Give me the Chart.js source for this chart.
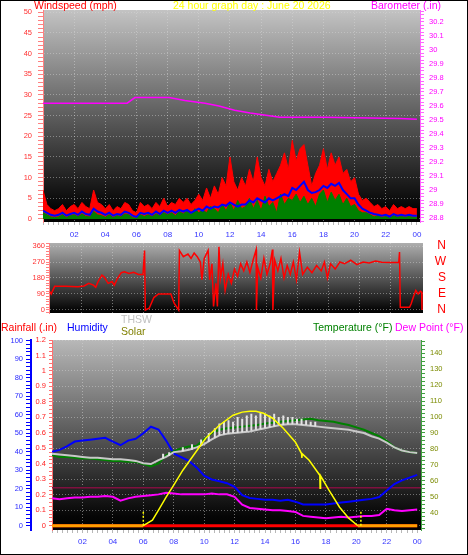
<!DOCTYPE html>
<html>
<head>
<meta charset="utf-8">
<title>24 hour graph</title>
<script src="https://cdn.jsdelivr.net/npm/chart.js"></script>
<style>
  body { margin: 0; background: #fff; }
  #wrap { position: relative; width: 468px; height: 555px; overflow: hidden; font-family: 'Liberation Sans', Arial, sans-serif; }
  #wrap canvas { position: absolute; left: 0; }
  #frame { position: absolute; left: 0; top: 0; width: 468px; height: 555px; border: 1px solid #000; box-sizing: border-box; z-index: 3; }
  .lbl { position: absolute; font-size: 10.5px; line-height: 1; white-space: nowrap; z-index: 2; }
</style>
</head>
<body>
<div id="wrap">
  <canvas id="wind" width="468" height="240" style="top:0px"></canvas>
  <canvas id="dir" width="468" height="80" style="top:240px"></canvas>
  <canvas id="env" width="468" height="235" style="top:320px"></canvas>

  <span class="lbl" style="left:34px;top:0px;color:#ff0000">Windspeed (mph)</span>
  <span class="lbl" style="left:173px;top:0px;color:#ffff00">24 hour graph day : June 20 2026</span>
  <span class="lbl" style="left:371px;top:0px;color:#ff00ff">Barometer (.in)</span>

  <span class="lbl" style="left:1px;top:322px;color:#ff0000">Rainfall (.in)</span>
  <span class="lbl" style="left:67px;top:322px;color:#0000ff">Humidity</span>
  <span class="lbl" style="left:121px;top:314px;color:#c0c0c0">THSW</span>
  <span class="lbl" style="left:121px;top:326px;color:#808000">Solar</span>
  <span class="lbl" style="left:313px;top:322px;color:#008000">Temperature (°F)</span>
  <span class="lbl" style="left:395px;top:322px;color:#ff00ff">Dew Point (°F)</span>
  <div id="frame"></div>
</div>
<script>
    // ---- top chart: wind (15 min steps, 00:00 .. 24:00) ----
    var windGust = [
        7, 3.5, 2.5, 2,   2.5, 3.5, 2, 3,   3.5, 2.5, 4, 3,   2.5, 7, 4, 3.5,
        2.5, 3.5, 2, 3,   2.5, 4, 3.5, 2,   1.5, 4, 3, 3.5,   2.5, 4, 3, 5,
        3, 4, 3.5, 5,     4, 5, 3.5, 4.5,   6, 4.5, 7.5, 5,   8, 6, 10, 8,
        15, 9, 7, 10,     8, 12, 9, 15,     10, 8, 12, 9,     11, 13, 16, 12,
        19, 14, 17, 18,   13, 8, 11, 13,    17, 12, 16, 13,   15, 11, 12, 9,
        10, 6, 4.5, 5,    4, 3, 3.5, 2.5,   3, 2, 3.5, 2.5,   3, 2.5, 3, 2.5,
        2.5
    ];
    var windAvg = [
        2, 1.5, 1, 0.8,   1, 1.5, 0.8, 1.2,  1.5, 1, 1.8, 1.2,  1, 2.5, 1.8, 1.5,
        1, 1.5, 0.8, 1.2,  1, 1.8, 1.5, 0.8,  0.5, 1.5, 1.2, 1.5,  1, 1.8, 1.2, 2,
        1.5, 2, 1.5, 2.2,  1.8, 2.2, 1.5, 2,  2.5, 2, 3, 2.5,    3, 2.8, 3.5, 3.2,
        4, 3.5, 3, 3.5,    3.5, 4.5, 4, 5,   4.5, 4, 5, 4.5,    5, 5.5, 6, 5.5,
        7.5, 7, 8, 9,      7, 6.3, 6.5, 7,   8, 7.5, 8.5, 8,    8.7, 7, 6, 5,
        5, 3.5, 2.5, 2,    1.5, 1.2, 1, 0.8, 1, 0.6, 1.2, 0.8,  1, 0.8, 1, 0.8,
        0.8
    ];
    var windSpeed = [
        1.5, 1, 0.5, 0.3,  0.5, 1, 0.3, 0.8,  1, 0.5, 1.2, 0.6,  0.5, 1.8, 1, 0.8,
        0.4, 1, 0.3, 0.8,  0.5, 1.2, 1, 0.3,  0.2, 1, 0.6, 1,    0.5, 1.2, 0.8, 1.5,
        1, 1.5, 0.8, 1.8,  1.2, 2, 1, 2.5,    1.5, 2.2, 1.5, 3,  2.5, 1.5, 3.5, 2,
        4, 2, 4.5, 2.5,    3, 5, 2.5, 4.5,    2, 5.5, 3, 4,      1.5, 6, 3.5, 5,
        4.5, 6, 4, 5.5,    3.5, 5, 3, 6,      7, 4, 6.5, 4.5,    6, 3.5, 5, 3,
        3.5, 2, 1.5, 1.5,  1, 0.5, 0.8, 0.3,  0.6, 0.2, 0.8, 0.4, 0.6, 0.4, 0.6, 0.4,
        0.4
    ];
    var baroHours = [0, 5.4, 5.9, 8.1, 9.1, 10.4, 11.3, 12.3, 13.3, 14.2, 15.2, 18, 21, 22.9, 24];
    var barometer = [29.62, 29.62, 29.66, 29.66, 29.64, 29.62, 29.6, 29.57, 29.55, 29.535, 29.52, 29.52, 29.515, 29.51, 29.505];

    // ---- middle chart: wind direction ----
    var dirHours = [0, 0.08, 0.15, 0.3, 1, 1.8, 2.2, 2.5, 2.8, 2.95, 3.1, 3.35, 3.5, 3.75, 4, 4.15, 4.35, 4.6, 4.8, 5.1, 5.4, 5.7, 6,
        6.1, 6.15, 6.4, 6.7, 7, 7.8, 8, 8.3, 8.35, 8.6, 8.9, 9.1, 9.3, 9.5, 9.7, 9.8, 9.95, 10.2, 10.3, 10.45, 10.55, 10.7, 10.8, 10.9,
        11, 11.15, 11.3, 11.5, 11.7, 11.9, 12.1, 12.3, 12.5, 12.7, 12.9, 13.1, 13.3, 13.32, 13.4, 13.6, 13.8, 14, 14.2, 14.35, 14.38,
        14.5, 14.7, 14.9, 15.1, 15.3, 15.5, 15.7, 15.9, 16.1, 16.3, 16.6, 16.9, 17.2, 17.5, 17.7, 17.9, 18.1, 18.4, 18.7, 19, 19.4,
        19.8, 20.2, 20.6, 21, 21.4, 22, 22.5, 22.55, 22.6, 23.2, 23.3, 23.45, 23.6, 23.75, 23.9, 23.98, 24];
    var dirDegrees = [103, 90, 105, 133, 133, 131, 135, 150, 140, 128, 160, 196, 185, 150, 160, 140, 177, 210, 215, 205, 212, 200, 200,
        335, 0, 10, 70, 90, 90, 40, 0, 335, 300, 315, 290, 320, 300, 270, 170, 290, 335, 170, 260, 20, 150, 20, 355,
        180, 260, 110, 200, 150, 230, 190, 260, 220, 270, 210, 280, 340, 0, 240, 180, 290, 200, 260, 340, 0,
        280, 220, 290, 180, 250, 200, 270, 170, 325, 200, 240, 210, 250, 220, 270, 180, 260, 230, 270, 260, 280,
        255, 270, 265, 275, 268, 267, 267, 326, 15, 15, 35, 75, 110, 90, 105, 100, 0];

    // ---- bottom chart (30 min steps unless noted) ----
    var temperature = [76, 75, 75, 74.5, 74, 74, 73.5, 73, 72.5, 72.5, 72, 72, 70.5, 69, 71, 76, 78.5, 80.5, 81.5, 82, 86, 90, 92,
        93, 93.5, 94, 94.5, 95, 96, 96.5, 97, 97.5, 98, 98.5, 99, 98, 97.5, 97, 96, 95, 93.5, 92, 90, 88, 85, 81, 79, 78, 77.5];
    var humidity = [40, 41, 43, 45.5, 46, 46.5, 47, 47.5, 45.5, 43.5, 46, 47, 50, 53.5, 52, 46, 39, 37, 35, 31.5, 27, 25, 24, 23,
        21, 16.5, 15, 14.5, 14, 14, 13.5, 14, 13, 11.5, 11.5, 11.5, 11.5, 12, 12.5, 13, 13.5, 14, 14.5, 15.5, 19, 22.5, 24.5, 26, 27.5];
    var dewPoint = [49, 48.5, 49, 49.5, 49.5, 50, 50, 50.5, 50, 47.5, 49, 50, 50.5, 51, 51.5, 52.5, 52, 51.5, 51.5, 51.5, 51.5, 52,
        51.5, 51.5, 50, 45, 43, 42.5, 42, 41.5, 41.5, 41, 40.5, 38, 37.5, 37, 36.5, 37, 37.5, 37, 37.5, 38, 38, 38.5, 42.5, 41.5, 41, 41.5, 42];
    var thsw = [77, 76.5, 76, 75.5, 75, 74.5, 74.5, 74, 73.5, 73.5, 73, 72.5, 71, 70.5, 73, 75, 78, 78.5, 79.5, 81, 83, 86, 88.5,
        89.5, 90, 90.5, 91, 92, 93, 94, 95, 95.5, 95.5, 95, 94.5, 94, 93.5, 93, 92.5, 92, 91, 90, 88, 86.5, 84, 81, 79, 78, 77.5];
    // short THSW peaks (hour, low, high)
    var thswPeakHours = [7.3, 7.7, 8.6, 9.2, 9.8, 10.3, 10.7, 11, 11.3, 11.6, 11.9, 12.2, 12.5, 12.8, 13.1, 13.4, 13.7, 14, 14.3,
        14.6, 14.9, 15.2, 15.5, 15.8, 16.1, 16.4, 16.7, 17, 17.3];
    var thswPeakLow = [74, 75.5, 78.5, 79.5, 82, 84.5, 87, 88.5, 89, 89.5, 90, 90, 90.5, 91, 91.5, 92, 92.5, 93, 93.5,
        94, 95, 95, 95.5, 95.5, 95.5, 95, 95, 94.5, 94];
    var thswPeakHigh = [77, 78, 81, 83, 86, 90, 93, 96, 97, 98, 97, 100, 99, 101, 102, 101, 103, 102, 101,
        102, 100, 101, 100, 100, 99, 99, 98, 97, 97];
    var rainfall = [0, 0];
    var rainHours = [0, 24];
    var solarHours = [0, 6, 6.6, 7, 7.5, 8, 8.6, 9.3, 10.1, 11, 11.9, 12.5, 13, 13.4, 13.9, 14.5, 15.2, 16, 16.4, 16.42, 16.45,
        16.9, 17.6, 17.62, 17.65, 18.2, 18.9, 19.5, 20.1, 24];
    var solar = [0, 0, 30, 84, 154, 219, 300, 381, 473, 543, 597, 614, 619, 619, 608, 581, 527, 451, 390, 366, 388,
        354, 273, 202, 270, 192, 100, 41, 0, 0];
    var sunHours = [6, 20.3];
    var limitTemp = 55.7;

    // ---- helpers ----
    var quarterHours = windGust.map(function (v, i) { return i / 4; });
    var halfHours = temperature.map(function (v, i) { return i / 2; });
    function pts(xs, ys) { return ys.map(function (y, i) { return { x: xs[i], y: y }; }); }
    function strokes(xs, lows, highs) {
        var out = [];
        xs.forEach(function (x, i) {
            out.push({ x: x, y: lows[i] }, { x: x, y: highs[i] }, { x: x, y: null });
        });
        return out;
    }
    function near(v, m) { return Math.abs(v / m - Math.round(v / m)) < 1e-6; }
    function stepTicks(from, to, step) {
        var out = [], n = Math.round((to - from) / step);
        for (var i = 0; i <= n; i++) out.push({ value: +(from + i * step).toFixed(4) });
        return out;
    }
    function oneDec(v) { return String(Math.round(v * 10) / 10); }
    function noPad(s) { s.paddingTop = 0; s.paddingBottom = 0; s.paddingLeft = 0; s.paddingRight = 0; }

    Chart.defaults.font.family = "'Liberation Sans', Arial, sans-serif";
    Chart.defaults.animation = false;

    function plotBg(top, bottom) {
        return {
            id: 'plotBg',
            beforeDraw: function (chart) {
                var a = chart.chartArea, ctx = chart.ctx;
                var g = ctx.createLinearGradient(0, a.top, 0, a.bottom);
                g.addColorStop(0, top);
                g.addColorStop(0.93, bottom);
                g.addColorStop(1, '#000000');
                ctx.save();
                ctx.fillStyle = g;
                ctx.fillRect(a.left, a.top, a.right - a.left, a.bottom - a.top);
                ctx.restore();
            }
        };
    }

    function hourAxis(min, max, showLabels, height, pad) {
        return {
            type: 'linear', min: min, max: max,
            afterBuildTicks: function (s) { s.ticks = stepTicks(0, 24, 1 / 3); },
            afterFit: function (s) { s.height = height; noPad(s); },
            grid: {
                color: function (c) {
                    var v = c.tick.value;
                    return near(v, 2) && v > 0 && v < 24 ? 'rgba(215,215,215,0.5)' : 'rgba(0,0,0,0)';
                },
                tickColor: '#b8b8b8', tickLength: 3, drawTicks: showLabels
            },
            border: { display: false, dash: [1, 2] },
            ticks: {
                display: showLabels, autoSkip: false, maxRotation: 0, padding: pad,
                color: '#3535ff', font: { size: 8 },
                callback: function (v) { return near(v, 2) && v > 0 ? String(Math.round(v) % 24).padStart(2, '0') : ''; }
            }
        };
    }

    function valueAxis(o) {
        return {
            type: 'linear', display: true, position: o.position, min: o.min, max: o.max, weight: o.weight || 0,
            afterBuildTicks: function (s) { s.ticks = stepTicks(o.from, o.to, o.step); },
            afterFit: function (s) { s.width = o.width; noPad(s); },
            grid: {
                drawOnChartArea: !!o.gridEvery,
                color: function (c) { return o.gridEvery && near(c.tick.value, o.gridEvery) ? 'rgba(215,215,215,0.45)' : 'rgba(0,0,0,0)'; },
                tickColor: o.tickColor, tickLength: o.tickLength
            },
            border: { display: true, color: o.borderColor || o.tickColor, width: o.borderWidth || 1, dash: [1, 2] },
            ticks: {
                autoSkip: false, padding: o.padding, color: o.color, font: { size: 7.5 },
                callback: function (v) {
                    if (!near(v, o.labelEvery)) return '';
                    if (o.labelMin !== undefined && v < o.labelMin - 1e-6) return '';
                    return o.fmt(v);
                }
            }
        };
    }

    var common = {
        responsive: false,
        elements: { point: { radius: 0 }, line: { tension: 0 } },
        plugins: { legend: { display: false }, tooltip: { enabled: false } }
    };

    // ---- top: wind speed + barometer ----
    new Chart(document.getElementById('wind'), {
        type: 'line',
        data: {
            datasets: [
                { data: pts(baroHours, barometer), yAxisID: 'baro', borderColor: '#ff00ff', borderWidth: 1.5 },
                { data: pts(quarterHours, windAvg), yAxisID: 'wind', borderColor: '#0000ff', borderWidth: 2 },
                { data: pts(quarterHours, windSpeed), yAxisID: 'wind', borderColor: '#008000', backgroundColor: '#008000', borderWidth: 1, fill: 'origin' },
                { data: pts(quarterHours, windGust), yAxisID: 'wind', borderColor: '#ff0000', backgroundColor: '#ff0000', borderWidth: 1, fill: 'origin' }
            ]
        },
        options: Object.assign({}, common, {
            layout: { padding: { top: 10 } },
            scales: {
                x: hourAxis(0, 24.2, true, 18, 5),
                wind: valueAxis({ position: 'left', min: -0.73, max: 50.56, from: 0, to: 50, step: 1, labelEvery: 5, gridEvery: 5,
                    width: 43, tickLength: 5, padding: 6, color: '#ff3030', tickColor: '#ff8080', fmt: String }),
                baro: valueAxis({ position: 'right', min: 28.7714, max: 30.2857, from: 28.775, to: 30.275, step: 0.025, labelEvery: 0.1,
                    width: 48, tickLength: 4, padding: 5, color: '#ff00ff', tickColor: '#ff66ff', fmt: oneDec })
            }
        }),
        plugins: [plotBg('#c3c3c3', '#050505')]
    });

    // ---- middle: wind direction ----
    var compass = { 0: 'N', 90: 'E', 180: 'S', 270: 'W', 360: 'N' };
    new Chart(document.getElementById('dir'), {
        type: 'line',
        data: {
            datasets: [
                { data: pts(dirHours, dirDegrees), yAxisID: 'deg', borderColor: '#ff0000', borderWidth: 1.5 }
            ]
        },
        options: Object.assign({}, common, {
            layout: { padding: { top: 3, bottom: 7, right: 22 } },
            scales: {
                x: hourAxis(-0.065, 24.065, false, 0, 0),
                deg: valueAxis({ position: 'left', min: -16.9, max: 376.9, from: -15, to: 375, step: 15, labelEvery: 90, labelMin: 0, gridEvery: 90,
                    width: 49, tickLength: 3, padding: 1, color: '#ff3030', tickColor: '#ff8080', fmt: String }),
                compass: {
                    type: 'linear', position: 'right', min: -16.9, max: 376.9,
                    afterBuildTicks: function (s) { s.ticks = stepTicks(0, 360, 90); },
                    afterFit: function (s) { s.width = 23; noPad(s); },
                    grid: { drawOnChartArea: false, drawTicks: false },
                    border: { display: false },
                    ticks: { autoSkip: false, padding: 0, crossAlign: 'far', color: '#ff0000', font: { size: 12 },
                        callback: function (v) { return compass[v] || ''; } }
                }
            }
        }),
        plugins: [plotBg('#aeaeae', '#0a0a0a')]
    });

    // ---- bottom: rain, humidity, THSW, solar, temperature, dew point ----
    new Chart(document.getElementById('env'), {
        type: 'line',
        data: {
            datasets: [
                { data: pts([sunHours[0], sunHours[0]], [0, 80]), yAxisID: 'solar', borderColor: '#ffff00', borderWidth: 1.5, borderDash: [2, 2] },
                { data: pts([sunHours[1], sunHours[1]], [0, 75]), yAxisID: 'solar', borderColor: '#ffff00', borderWidth: 1.5, borderDash: [2, 2] },
                { data: pts(solarHours, solar), yAxisID: 'solar', borderColor: '#ffff00', borderWidth: 1.5,
                    segment: {
                        borderColor: function (c) { return c.p0.parsed.y === 0 && c.p1.parsed.y === 0 ? '#ffa000' : undefined; },
                        borderWidth: function (c) { return c.p0.parsed.y === 0 && c.p1.parsed.y === 0 ? 3 : undefined; }
                    } },
                { data: strokes(thswPeakHours, thswPeakLow, thswPeakHigh), yAxisID: 'temp', borderColor: '#e4e4e4', borderWidth: 2, spanGaps: false },
                { data: pts(halfHours, thsw), yAxisID: 'temp', borderColor: '#c8c8c8', borderWidth: 2 },
                { data: pts(halfHours, temperature), yAxisID: 'temp', borderColor: '#008000', borderWidth: 2 },
                { data: pts(halfHours, humidity), yAxisID: 'hum', borderColor: '#0000ff', borderWidth: 2 },
                { data: pts(halfHours, dewPoint), yAxisID: 'temp', borderColor: '#ff00ff', borderWidth: 2 },
                { data: pts([0, 24.25], [limitTemp, limitTemp]), yAxisID: 'temp', borderColor: '#80103f', borderWidth: 1.5 },
                { data: pts(rainHours, rainfall), yAxisID: 'rain', borderColor: '#ff0000', borderWidth: 3 }
            ]
        },
        options: Object.assign({}, common, {
            layout: { padding: { top: 20 } },
            scales: {
                x: hourAxis(0, 24.25, true, 25, 4),
                rain: valueAxis({ position: 'left', weight: 0, min: -0.028, max: 1.2, from: 0, to: 1.2, step: 0.025, labelEvery: 0.1, gridEvery: 0.1,
                    width: 21, tickLength: 3, padding: 3, color: '#ff2020', tickColor: '#ff7070', fmt: oneDec }),
                hum: valueAxis({ position: 'left', weight: 1, min: -2.32, max: 100.38, from: 0, to: 100, step: 2, labelEvery: 10,
                    width: 31, tickLength: 5, padding: 3, color: '#2b2bff', tickColor: '#0000ff', borderWidth: 2, fmt: String }),
                temp: valueAxis({ position: 'right', min: 29.15, max: 148.34, from: 30, to: 147.5, step: 2.5, labelEvery: 10, labelMin: 40,
                    width: 47, tickLength: 4, padding: 5, color: '#7b8b00', tickColor: '#40a040', fmt: String }),
                solar: { type: 'linear', display: false, min: -23.2, max: 1003.8 }
            }
        }),
        plugins: [plotBg('#b8b8b8', '#050505')]
    });
</script>
</body>
</html>
